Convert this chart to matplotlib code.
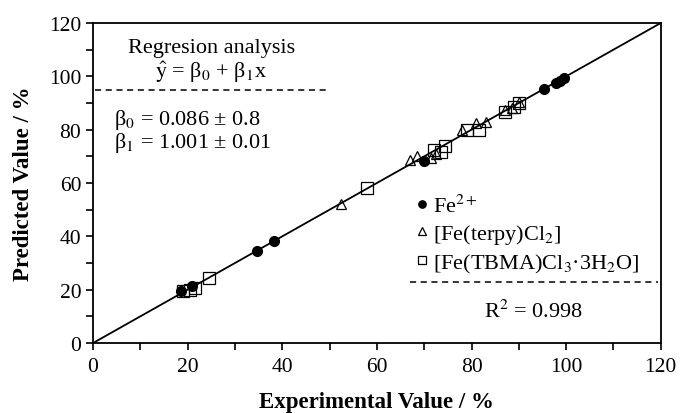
import matplotlib
matplotlib.use('Agg')
import matplotlib.pyplot as plt
from matplotlib.ticker import MultipleLocator

# data
fe_x = [18.7, 21.0, 34.7, 38.3, 70.0, 95.3, 97.8, 98.6, 99.5]
fe_y = [19.6, 21.3, 34.6, 38.1, 68.4, 95.2, 97.5, 98.3, 99.2]

terpy_x = [52.5, 67.0, 68.5, 71.5, 72.5, 78.0, 81.0, 83.0, 87.0, 88.5, 90.0]
terpy_y = [52.0, 68.5, 70.0, 69.5, 71.0, 80.0, 82.5, 83.0, 87.5, 88.0, 90.5]

tbma_x = [19.0, 20.5, 21.5, 24.5, 58.0, 72.0, 73.5, 74.5, 79.0, 81.5, 87.0, 89.0, 90.0]
tbma_y = [19.5, 19.8, 20.5, 24.5, 58.0, 72.5, 71.5, 74.0, 80.0, 80.0, 86.5, 88.5, 90.0]

fit_x = [0, 120]
fit_y = [0, 120]

plt.rcParams['font.family'] = ['Liberation Serif', 'DejaVu Serif']
plt.rcParams['mathtext.fontset'] = 'stix'

fig = plt.figure(figsize=(6.84, 4.14), dpi=100)
ax = fig.add_axes([0.136, 0.169, 0.830, 0.773])

ax.plot(fit_x, fit_y, color='black', lw=1.3, zorder=1)
ax.plot(fe_x, fe_y, 'o', ms=7, color='black', label='Fe$^{2+}$', zorder=3)
ax.plot(terpy_x, terpy_y, '^', ms=7, mfc='none', mec='black', mew=0.9,
        label='[Fe(terpy)Cl$_2$]', zorder=2)
ax.plot(tbma_x, tbma_y, 's', ms=8, mfc='none', mec='black', mew=0.9,
        label='[Fe(TBMA)Cl$_3$·3H$_2$O]', zorder=2)

ax.set_xlim(0, 120)
ax.set_ylim(0, 120)
ax.xaxis.set_major_locator(MultipleLocator(20))
ax.yaxis.set_major_locator(MultipleLocator(20))
ax.xaxis.set_minor_locator(MultipleLocator(10))
ax.yaxis.set_minor_locator(MultipleLocator(10))
ax.tick_params(which='both', direction='out', length=5, width=1.2, labelsize=15.5)
ax.tick_params(which='both', top=False, right=False)
ax.tick_params(axis='x', pad=5)
for s in ax.spines.values():
    s.set_linewidth(1.3)

ax.set_xlabel('Experimental Value / %', fontsize=16.5, fontweight='bold', labelpad=11)
ax.set_ylabel('Predicted Value / %', fontsize=16.5, fontweight='bold', labelpad=11)

# regression annotation
ax.text(25, 111, 'Regresion analysis', ha='center', va='center', fontsize=16)
ax.text(25, 102, r'$\hat{\mathrm{y}}$ = β$_0$ + β$_1$x', ha='center', va='center', fontsize=16)
ax.plot([0.5, 49.5], [95, 95], ls=(0, (4, 3)), color='black', lw=1.1)
ax.text(4.5, 84, 'β$_0$ = 0.086 ± 0.8', ha='left', va='center', fontsize=16)
ax.text(4.5, 75.5, 'β$_1$ = 1.001 ± 0.01', ha='left', va='center', fontsize=16)

ax.legend(loc='upper left', bbox_to_anchor=(0.57, 0.465), frameon=False,
          fontsize=16, handlelength=0.45, handletextpad=0.3, markerscale=0.75,
          labelspacing=0.25, borderaxespad=0, borderpad=0)

ax.plot([67, 119.5], [23, 23], ls=(0, (4, 3)), color='black', lw=1.1)
ax.text(93, 12, 'R$^2$ = 0.998', ha='center', va='center', fontsize=16)

fig.savefig('out.png', dpi=100)
